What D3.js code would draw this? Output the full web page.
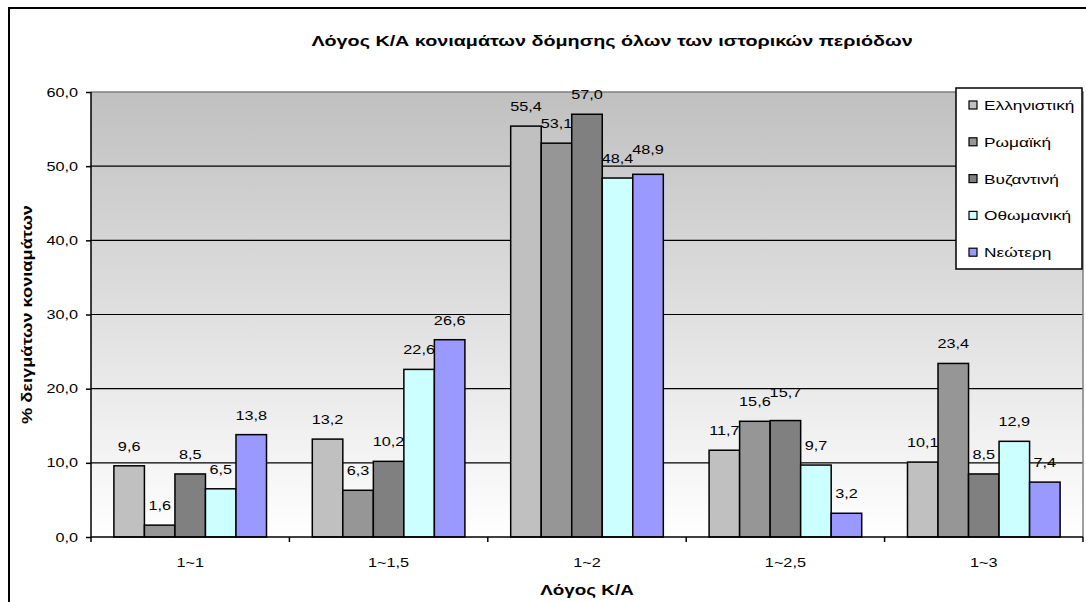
<!DOCTYPE html>
<html>
<head>
<meta charset="utf-8">
<script src="https://cdn.jsdelivr.net/npm/d3@7"></script>
<style>
  html, body { margin: 0; padding: 0; background: #fff; }
  svg { display: block; font-family: Arial, "Liberation Sans", sans-serif; }
</style>
</head>
<body>
<svg id="chart" width="1086" height="602"></svg>
<script>
// Ratio categories (K/A) and historical periods
const categories = ["1~1", "1~1,5", "1~2", "1~2,5", "1~3"];
const periods = ["Ελληνιστική", "Ρωμαϊκή", "Βυζαντινή", "Οθωμανική", "Νεώτερη"];

// % of mortar samples per period, one array per period (in category order)
const hellenistic = [9.6, 13.2, 55.4, 11.7, 10.1];
const roman       = [1.6, 6.3, 53.1, 15.6, 23.4];
const byzantine   = [8.5, 10.2, 57.0, 15.7, 8.5];
const ottoman     = [6.5, 22.6, 48.4, 9.7, 12.9];
const modern      = [13.8, 26.6, 48.9, 3.2, 7.4];

const yTicks = [0, 10, 20, 30, 40, 50, 60];

const series = [hellenistic, roman, byzantine, ottoman, modern];
const colors = ["#c0c0c0", "#969696", "#808080", "#ccffff", "#9999ff"];

const svg = d3.select("#chart");
const fmt = v => v.toFixed(1).replace(".", ",");

// Text is drawn slightly widened along its baseline
const SX = 1.3;
function label(parent, x, y, str, opts = {}) {
  const rot = opts.rotate ? ` rotate(${opts.rotate})` : "";
  return parent.append("text")
    .attr("transform", `translate(${x},${y})${rot} scale(${SX},1)`)
    .attr("text-anchor", opts.anchor || "middle")
    .attr("font-size", opts.size || 12)
    .attr("font-weight", opts.weight || "normal")
    .attr("fill", "#000")
    .text(str);
}

// Plot area
const plotL = 91, plotR = 1083, plotT = 92, plotB = 537;

const x0 = d3.scaleBand().domain(categories).range([plotL, plotR]).paddingInner(0).paddingOuter(0);
const x1 = d3.scaleBand().domain(periods).range([0, x0.bandwidth()]).paddingInner(0).paddingOuter(0.75);
const y = d3.scaleLinear().domain([0, 60]).range([plotB, plotT]);

// Outer chart frame
svg.append("rect")
  .attr("x", 9).attr("y", 8).attr("width", 1200).attr("height", 700)
  .attr("fill", "none").attr("stroke", "#000").attr("stroke-width", 2);

// Plot background gradient
const defs = svg.append("defs");
const grad = defs.append("linearGradient").attr("id", "bg")
  .attr("x1", 0).attr("y1", 0).attr("x2", 0).attr("y2", 1);
grad.append("stop").attr("offset", "0%").attr("stop-color", "#c0c0c0");
grad.append("stop").attr("offset", "100%").attr("stop-color", "#ffffff");

svg.append("rect")
  .attr("x", plotL).attr("y", plotT).attr("width", plotR - plotL).attr("height", plotB - plotT)
  .attr("fill", "url(#bg)");

// Horizontal gridlines
svg.append("g").selectAll("line")
  .data(yTicks.filter(t => t > 0 && t < 60))
  .join("line")
  .attr("x1", plotL).attr("x2", plotR)
  .attr("y1", d => y(d)).attr("y2", d => y(d))
  .attr("stroke", "#000").attr("stroke-width", 1.2);

// Plot area border (top and right)
svg.append("path")
  .attr("d", `M${plotL},${plotT}H${plotR}V${plotB}`)
  .attr("fill", "none").attr("stroke", "#808080").attr("stroke-width", 1.5);

// Bars
const groups = svg.append("g").selectAll("g")
  .data(categories)
  .join("g")
  .attr("transform", d => `translate(${x0(d)},0)`);

groups.selectAll("rect")
  .data((c, ci) => periods.map((p, pi) => ({ p, v: series[pi][ci], color: colors[pi] })))
  .join("rect")
  .attr("x", d => x1(d.p))
  .attr("y", d => y(d.v))
  .attr("width", x1.bandwidth())
  .attr("height", d => y(0) - y(d.v))
  .attr("fill", d => d.color)
  .attr("stroke", "#000")
  .attr("stroke-width", 1.5);

// Value labels above each bar; a label that would collide with its left
// neighbour (similar height) is lifted a little so both stay readable
groups.each(function (c, ci) {
  const g = d3.select(this);
  let prevY = null;
  periods.forEach((p, pi) => {
    const v = series[pi][ci];
    let ly = y(v) - 15;
    if (prevY !== null && Math.abs(ly - prevY) < 4) ly = prevY - 9;
    label(g, x1(p) + x1.bandwidth() / 2, ly, fmt(v), { size: 12.5 });
    prevY = ly;
  });
});

// Y axis
const yAxis = d3.axisLeft(y).tickValues(yTicks).tickSize(5).tickFormat("");
const gy = svg.append("g").attr("transform", `translate(${plotL},0)`).call(yAxis);
gy.select(".domain").attr("stroke", "#000").attr("stroke-width", 1.5).attr("d", `M0,${plotT}V${plotB}`);
gy.selectAll(".tick line").attr("stroke", "#000").attr("stroke-width", 1.5);
yTicks.forEach(t => label(svg, plotL - 13, y(t) + 4.5, fmt(t), { size: 12.5, anchor: "end" }));

// X axis
const gx = svg.append("g").attr("transform", `translate(0,${plotB})`);
gx.append("line").attr("x1", plotL).attr("x2", plotR).attr("y1", 0).attr("y2", 0)
  .attr("stroke", "#000").attr("stroke-width", 1.5);
gx.selectAll("line.tk")
  .data(categories.map(c => x0(c)).concat([plotR]))
  .join("line").attr("class", "tk")
  .attr("x1", d => d).attr("x2", d => d).attr("y1", 0).attr("y2", 5)
  .attr("stroke", "#000").attr("stroke-width", 1.5);
categories.forEach(c => label(gx, x0(c) + x0.bandwidth() / 2, 30, c, { size: 12.5 }));

// Title
label(svg, 612, 46, "Λόγος Κ/Α κονιαμάτων δόμησης όλων των ιστορικών περιόδων",
  { size: 15.2, weight: "bold" });

// Axis titles
label(svg, 587, 595, "Λόγος Κ/Α", { size: 14.5, weight: "bold" });
label(svg, 32, (plotT + plotB) / 2, "% δειγμάτων κονιαμάτων",
  { size: 14, weight: "bold", rotate: -90 });

// Legend
const lg = svg.append("g").attr("transform", "translate(956,88)");
lg.append("rect").attr("x", 0).attr("y", 0).attr("width", 126).attr("height", 181)
  .attr("fill", "#fff").attr("stroke", "#000").attr("stroke-width", 1.5);
periods.forEach((p, i) => {
  const item = lg.append("g").attr("transform", `translate(0,${17 + i * 36.8})`);
  item.append("rect")
    .attr("x", 13).attr("y", -4).attr("width", 8).attr("height", 8)
    .attr("fill", colors[i]).attr("stroke", "#000").attr("stroke-width", 1.2);
  label(item, 28, 5, p, { size: 13.3, anchor: "start" });
});
</script>
</body>
</html>
